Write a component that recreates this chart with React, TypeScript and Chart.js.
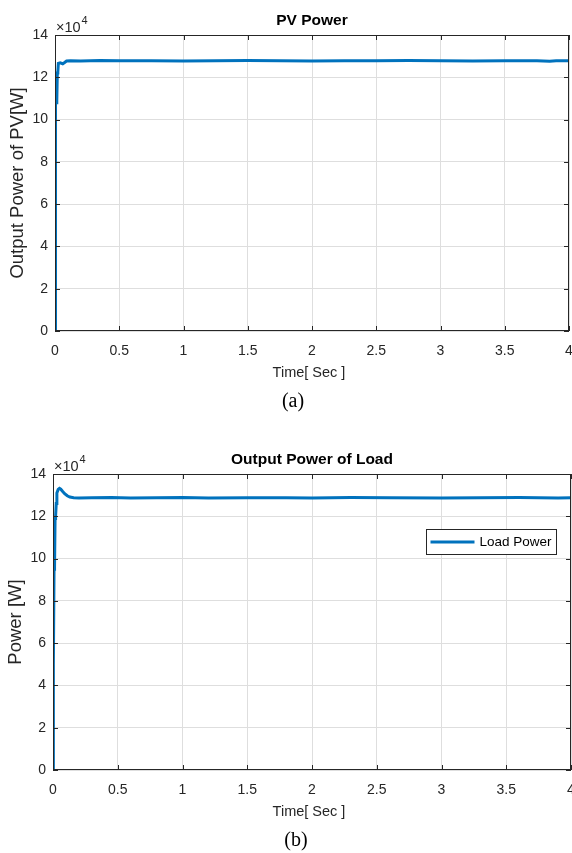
import React, { useEffect, useRef } from "react";
import { Chart, registerables } from "chart.js";

Chart.register(...registerables);

// ---------- data (power in units of 1e4 W) ----------
const pvTime = [0, 0.003, 0.005, 0.008, 0.014, 0.018, 0.022, 0.026, 0.04, 0.06, 0.075, 0.09, 0.12, 0.2, 0.35, 0.5, 0.75, 1.0, 1.25, 1.5, 1.75, 2.0, 2.25, 2.5, 2.75, 3.0, 3.25, 3.5, 3.75, 3.85, 3.9, 4.0];
const pvPower = [0, 3.5, 10.8, 10.8, 10.9, 12.2, 12.25, 12.66, 12.68, 12.64, 12.7, 12.77, 12.78, 12.77, 12.79, 12.78, 12.78, 12.77, 12.78, 12.79, 12.78, 12.77, 12.78, 12.78, 12.79, 12.78, 12.77, 12.78, 12.78, 12.76, 12.78, 12.78];

const loadTime = [0, 0.003, 0.008, 0.012, 0.016, 0.02, 0.025, 0.03, 0.04, 0.05, 0.06, 0.075, 0.09, 0.11, 0.13, 0.16, 0.2, 0.3, 0.45, 0.6, 0.8, 1.0, 1.2, 1.5, 1.8, 2.0, 2.3, 2.6, 3.0, 3.3, 3.6, 3.9, 4.0];
const loadPower = [0, 5.0, 9.5, 9.6, 11.9, 12.0, 12.6, 13.1, 13.27, 13.32, 13.28, 13.17, 13.07, 12.97, 12.91, 12.88, 12.87, 12.88, 12.89, 12.87, 12.88, 12.89, 12.87, 12.88, 12.88, 12.87, 12.89, 12.88, 12.87, 12.88, 12.89, 12.87, 12.88];

const xTickValues = [0, 0.5, 1, 1.5, 2, 2.5, 3, 3.5, 4];
const xTickLabels = ["0", "0.5", "1", "1.5", "2", "2.5", "3", "3.5", "4"];
const yTickValues = [0, 2, 4, 6, 8, 10, 12, 14];
const yTickLabels = ["0", "2", "4", "6", "8", "10", "12", "14"];

const LINE_COLOR = "#0072BD";
const AXIS_COLOR = "#262626";
const GRID_COLOR = "#dedede";
const SANS = '"Liberation Sans", Arial, Helvetica, sans-serif';

type PanelProps = {
  top: number;
  height: number;
  area: { left: number; top: number; right: number; bottom: number };
  title: string;
  yTitle: string;
  xs: number[];
  ys: number[];
  legend?: string;
};

function Panel(props: PanelProps) {
  const ref = useRef<HTMLCanvasElement | null>(null);

  useEffect(() => {
    const canvas = ref.current;
    if (!canvas) return;
    const W = 572;
    const { area, height } = props;

    const decor = {
      id: "decor",
      afterDraw(chart: any) {
        const ctx = chart.ctx as CanvasRenderingContext2D;
        const a = chart.chartArea;
        const sx = chart.scales.x;
        const sy = chart.scales.y;
        ctx.save();
        // axes box
        ctx.strokeStyle = AXIS_COLOR;
        ctx.lineWidth = 1;
        ctx.strokeRect(a.left + 0.5, a.top + 0.5, a.right - a.left - 1, a.bottom - a.top - 1);
        // inward tick marks
        ctx.beginPath();
        xTickValues.forEach((v) => {
          const px = Math.round(sx.getPixelForValue(v)) + 0.5;
          ctx.moveTo(px, a.bottom);
          ctx.lineTo(px, a.bottom - 5);
          ctx.moveTo(px, a.top);
          ctx.lineTo(px, a.top + 5);
        });
        yTickValues.forEach((v) => {
          const py = Math.round(sy.getPixelForValue(v)) + 0.5;
          ctx.moveTo(a.left, py);
          ctx.lineTo(a.left + 5, py);
          ctx.moveTo(a.right, py);
          ctx.lineTo(a.right - 5, py);
        });
        ctx.stroke();

        const cx = (a.left + a.right) / 2;
        const cy = (a.top + a.bottom) / 2;
        // title
        ctx.fillStyle = "#000";
        ctx.font = `bold 15.5px ${SANS}`;
        ctx.textAlign = "center";
        ctx.textBaseline = "middle";
        ctx.fillText(props.title, cx, a.top - 14.5);
        // x title
        ctx.fillStyle = AXIS_COLOR;
        ctx.font = `14.5px ${SANS}`;
        ctx.fillText("Time[ Sec ]", cx - 3, a.bottom + 42);
        // y title
        ctx.save();
        ctx.translate(a.left - 37, cy);
        ctx.rotate(-Math.PI / 2);
        ctx.font = `18.5px ${SANS}`;
        ctx.fillText(props.yTitle, 0, 0);
        ctx.restore();
        // exponent label
        ctx.textAlign = "left";
        ctx.textBaseline = "alphabetic";
        ctx.font = `14.5px ${SANS}`;
        const base = "\u00D710";
        ctx.fillText(base, a.left + 1, a.top - 3);
        const w = ctx.measureText(base).width;
        ctx.font = `11px ${SANS}`;
        ctx.fillText("4", a.left + 1 + w + 1, a.top - 11);
        // legend
        if (props.legend) {
          const bw = 130, bh = 25;
          const bx = a.right - 15 - bw + 0.5;
          const by = a.top + 55 + 0.5;
          ctx.fillStyle = "#fff";
          ctx.fillRect(bx, by, bw, bh);
          ctx.strokeStyle = AXIS_COLOR;
          ctx.lineWidth = 1;
          ctx.strokeRect(bx, by, bw, bh);
          ctx.strokeStyle = LINE_COLOR;
          ctx.lineWidth = 3;
          ctx.beginPath();
          ctx.moveTo(bx + 4, by + bh / 2);
          ctx.lineTo(bx + 48, by + bh / 2);
          ctx.stroke();
          ctx.fillStyle = "#000";
          ctx.font = `13.5px ${SANS}`;
          ctx.textBaseline = "middle";
          ctx.fillText(props.legend, bx + 53, by + bh / 2 + 0.5);
        }
        ctx.restore();
      },
    };

    const points = props.xs.map((x, i) => ({ x, y: props.ys[i] }));

    const chart = new Chart(canvas, {
      type: "line",
      data: {
        datasets: [
          {
            data: points,
            borderColor: LINE_COLOR,
            borderWidth: 3,
            pointRadius: 0,
            tension: 0,
            fill: false,
          },
        ],
      },
      options: {
        animation: false,
        responsive: false,
        devicePixelRatio: 1,
        parsing: false as any,
        layout: { padding: { left: 0, top: area.top, right: W - area.right, bottom: 0 } },
        plugins: { legend: { display: false }, title: { display: false }, tooltip: { enabled: false } },
        scales: {
          x: {
            type: "linear",
            min: 0,
            max: 4,
            afterBuildTicks: (s: any) => {
              s.ticks = xTickValues.map((v) => ({ value: v }));
            },
            afterFit: (s: any) => {
              s.height = height - area.bottom;
              s.paddingLeft = 0;
              s.paddingRight = 0;
            },
            grid: { color: GRID_COLOR, drawTicks: false, lineWidth: 1 },
            border: { display: false },
            ticks: {
              autoSkip: false,
              maxRotation: 0,
              padding: 12,
              color: AXIS_COLOR,
              font: { family: SANS, size: 14 },
              callback: (_v: any, i: number) => xTickLabels[i],
            },
          },
          y: {
            type: "linear",
            min: 0,
            max: 14,
            afterBuildTicks: (s: any) => {
              s.ticks = yTickValues.map((v) => ({ value: v }));
            },
            afterFit: (s: any) => {
              s.width = area.left;
              s.paddingTop = 0;
              s.paddingBottom = 0;
            },
            grid: { color: GRID_COLOR, drawTicks: false, lineWidth: 1 },
            border: { display: false },
            ticks: {
              autoSkip: false,
              padding: 7,
              color: AXIS_COLOR,
              font: { family: SANS, size: 14 },
              callback: (_v: any, i: number) => yTickLabels[i],
            },
          },
        },
      },
      plugins: [decor],
    } as any);

    return () => chart.destroy();
  }, []);

  return (
    <canvas
      ref={ref}
      width={572}
      height={props.height}
      style={{ position: "absolute", left: 0, top: props.top, width: 572, height: props.height, display: "block" }}
    />
  );
}

const captionStyle: React.CSSProperties = {
  position: "absolute",
  width: 40,
  textAlign: "center",
  fontFamily: '"Liberation Serif", "Times New Roman", serif',
  fontSize: 20,
  lineHeight: "20px",
  color: "#000",
};

export default function App() {
  return (
    <div style={{ position: "absolute", left: 0, top: 0, width: 572, height: 853, background: "#fff", overflow: "hidden" }}>
      <Panel
        top={0}
        height={400}
        area={{ left: 55, top: 35, right: 569, bottom: 331 }}
        title="PV Power"
        yTitle="Output Power of PV[W]"
        xs={pvTime}
        ys={pvPower}
      />
      <div style={{ ...captionStyle, left: 273, top: 390 }}>(a)</div>
      <Panel
        top={430}
        height={400}
        area={{ left: 53, top: 44, right: 571, bottom: 340 }}
        title="Output Power of Load"
        yTitle="Power [W]"
        xs={loadTime}
        ys={loadPower}
        legend="Load Power"
      />
      <div style={{ ...captionStyle, left: 276, top: 829 }}>(b)</div>
    </div>
  );
}
